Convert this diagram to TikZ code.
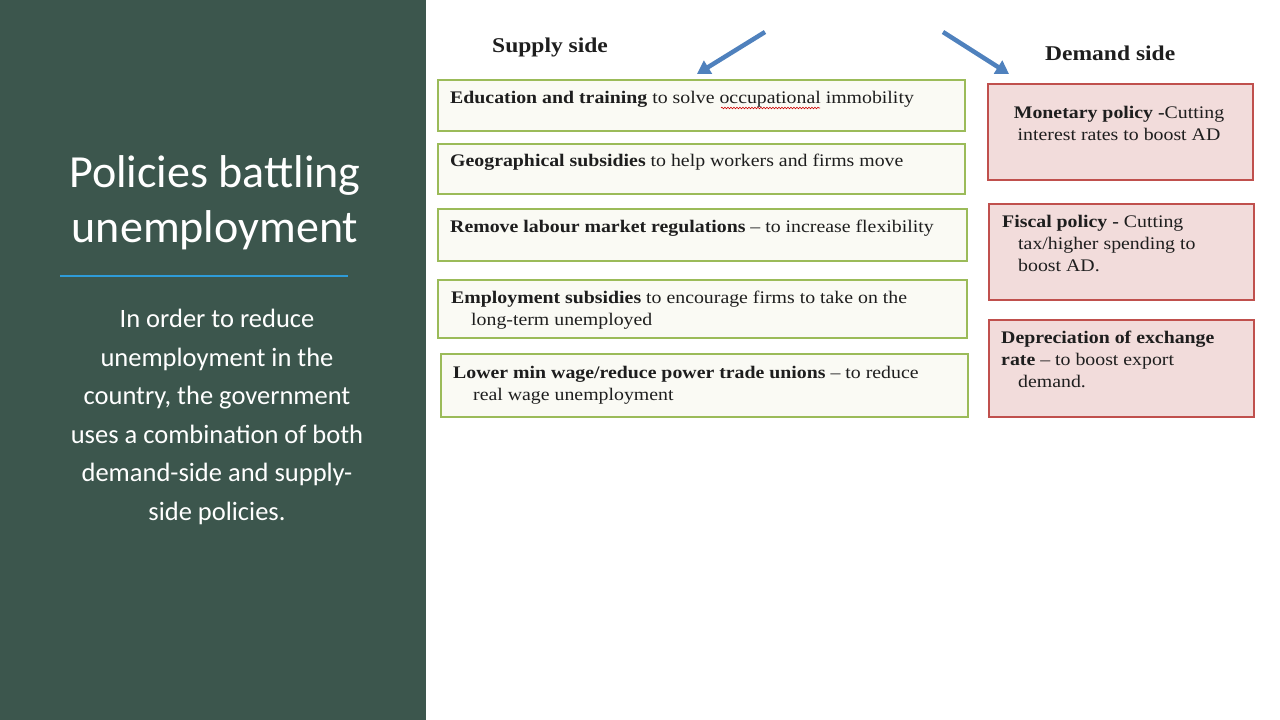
\documentclass[tikz,border=0pt]{standalone}
\usepackage{fontspec}
\setmainfont{Liberation Serif}[FakeStretch=1.12]
\newfontfamily\calibri{Carlito}
\usetikzlibrary{arrows.meta,decorations.pathmorphing}
\definecolor{leftbg}{HTML}{3C564D}
\definecolor{rulecol}{HTML}{2E9BD8}
\definecolor{arrowblue}{HTML}{4F81BD}
\definecolor{gborder}{HTML}{9BBB59}
\definecolor{gfill}{HTML}{FAFAF4}
\definecolor{rborder}{HTML}{C0504D}
\definecolor{rfill}{HTML}{F2DCDB}
\definecolor{boxtext}{HTML}{1E1E1E}
\begin{document}
\begin{tikzpicture}[x=1pt,y=-1pt,
  gbox/.style={draw=gborder,fill=gfill,line width=2pt,rectangle,inner sep=0pt},
  rbox/.style={draw=rborder,fill=rfill,line width=2pt,rectangle,inner sep=0pt},
  btext/.style={font=\fontsize{17.7}{22}\selectfont,text=boxtext,anchor=base west,inner sep=0pt,align=left},
  head/.style={font=\bfseries\fontsize{21}{24}\selectfont,text=boxtext,anchor=base west,inner sep=0pt},
  bigarrow/.style={draw=arrowblue,line width=4.5pt,-{Triangle[width=15pt,length=13pt]}},
  lefttext/.style={font=\calibri\fontsize{26.5}{38.5}\selectfont,text=white,align=center,inner sep=0pt}
]
\useasboundingbox (0,0) rectangle (1280,720);
\fill[white] (0,0) rectangle (1280,720);
\fill[leftbg] (0,0) rectangle (426,720);

% left panel (base anchor = baseline of last line)
\node[lefttext,font=\calibri\fontsize{46}{55}\selectfont,anchor=base] (title) at (215,242) {Policies battling\\unemployment};
\coordinate (ruleL) at (60,276);
\coordinate (ruleR) at (348,276);
\draw[rulecol,line width=1.5pt] (ruleL) -- (ruleR);
\node[lefttext,anchor=base] (body) at (217,520) {In order to reduce\\unemployment in the\\country, the government\\uses a combination of both\\demand-side and supply-\\side policies.};

% headings
\node[head] (supply) at (492,52) {Supply side};
\node[head] (demand) at (1045,60) {Demand side};

% arrows
\coordinate (a1s) at (765,32);
\coordinate (a1e) at (697,74);
\coordinate (a2s) at (943,32);
\coordinate (a2e) at (1009,74);
\draw[bigarrow] (a1s) -- (a1e);
\draw[bigarrow] (a2s) -- (a2e);

% supply boxes
\node[gbox,minimum width=527pt,minimum height=51pt,anchor=north west] (g1) at (437,79) {};
\node[gbox,minimum width=527pt,minimum height=50pt,anchor=north west] (g2) at (437,143) {};
\node[gbox,minimum width=529pt,minimum height=52pt,anchor=north west] (g3) at (437,208) {};
\node[gbox,minimum width=529pt,minimum height=58pt,anchor=north west] (g4) at (437,279) {};
\node[gbox,minimum width=527pt,minimum height=63pt,anchor=north west] (g5) at (440,353) {};

\node[btext] (t1) at (450,103) {\textbf{Education and training} to solve occupational immobility};
\draw[red!80!black,line width=0.6pt,decorate,decoration={snake,amplitude=0.8pt,segment length=3pt}] (721,108) -- (820,108);
\node[btext] (t2) at (450,166) {\textbf{Geographical subsidies} to help workers and firms move};
\node[btext] (t3) at (450,232) {\textbf{Remove labour market regulations} -- to increase flexibility};
\node[btext] (t4) at (451,325) {\textbf{Employment subsidies} to encourage firms to take on the\\\hspace*{20pt}long-term unemployed};
\node[btext] (t5) at (453,400) {\textbf{Lower min wage/reduce power trade unions} -- to reduce\\\hspace*{20pt}real wage unemployment};

% demand boxes
\node[rbox,minimum width=265pt,minimum height=96pt,anchor=north west] (r1) at (987,83) {};
\node[rbox,minimum width=265pt,minimum height=96pt,anchor=north west] (r2) at (988,203) {};
\node[rbox,minimum width=265pt,minimum height=97pt,anchor=north west] (r3) at (988,319) {};

\node[btext,anchor=base,align=center] (d1) at (1119,140) {\textbf{Monetary policy -}Cutting\\interest rates to boost AD};
\node[btext] (d2) at (1002,271) {\textbf{Fiscal policy -} Cutting\\\hspace*{16pt}tax/higher spending to\\\hspace*{16pt}boost AD.};
\node[btext] (d3) at (1001,387) {\textbf{Depreciation of exchange}\\\textbf{rate} -- to boost export\\\hspace*{17pt}demand.};
\end{tikzpicture}
\end{document}
